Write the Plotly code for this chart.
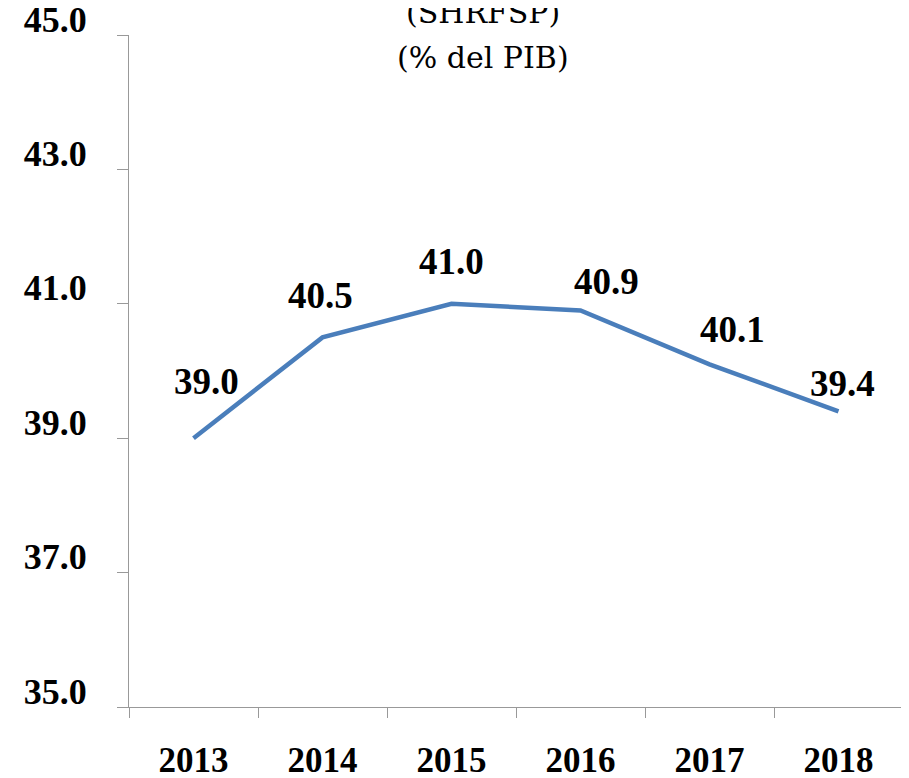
import plotly.graph_objects as go

years = ["2013", "2014", "2015", "2016", "2017", "2018"]
shrfsp = [39.0, 40.5, 41.0, 40.9, 40.1, 39.4]
y_ticks = [35.0, 37.0, 39.0, 41.0, 43.0, 45.0]

# label offsets in pixels relative to each point
label_dx = [13, -2, 0, 26, 23, 4]
label_dy = [57, 42, 42, 29, 35, 28]

serif = "Liberation Serif, Times New Roman, serif"
title_font = "DejaVu Serif"

fig = go.Figure()

fig.add_trace(go.Scatter(
    x=years,
    y=shrfsp,
    mode="lines",
    line=dict(color="#4a7ebb", width=4.5),
    hoverinfo="x+y",
    showlegend=False
))

# category axis: annotations placed by category index
for i, (v, dx, dy) in enumerate(zip(shrfsp, label_dx, label_dy)):
    fig.add_annotation(
        x=i, y=v, text=f"<b>{v:.1f}</b>",
        showarrow=False, xshift=dx, yshift=dy,
        font=dict(family=serif, size=37, color="black")
    )

# title lines (top one is cut by the page edge)
fig.add_annotation(
    x=0.457, y=1, xref="paper", yref="paper", yshift=23,
    xanchor="center", yanchor="middle",
    text="(SHRFSP)", showarrow=False,
    font=dict(family=title_font, size=30, color="black")
)
fig.add_annotation(
    x=0.457, y=1, xref="paper", yref="paper", yshift=-22,
    xanchor="center", yanchor="middle",
    text="(% del PIB)", showarrow=False,
    font=dict(family=title_font, size=30, color="black")
)

# page body adds an 8px offset, so the figure is 8px smaller
fig.update_layout(
    width=901,
    height=770,
    margin=dict(l=121, r=6, t=27, b=71),
    paper_bgcolor="white",
    plot_bgcolor="white",
    font=dict(family=serif, color="black"),
    xaxis=dict(
        type="category",
        range=[-0.5, 5.5],
        tickson="boundaries",
        ticks="outside",
        ticklen=10,
        tickcolor="#999999",
        tickwidth=1.3,
        showline=True,
        linecolor="#999999",
        linewidth=1.3,
        showgrid=False,
        automargin=False,
        ticklabelstandoff=22,
        tickfont=dict(family=serif, size=35, color="black", weight="bold"),
    ),
    yaxis=dict(
        range=[35, 45],
        tickvals=y_ticks,
        ticktext=[f"{t:.1f}" for t in y_ticks],
        ticks="outside",
        ticklen=11,
        tickcolor="#999999",
        tickwidth=1.3,
        showline=True,
        linecolor="#999999",
        linewidth=1.3,
        showgrid=False,
        zeroline=False,
        automargin=False,
        ticklabelstandoff=23,
        ticklabelshift=-16,
        ticklabeloverflow="allow",
        tickfont=dict(family=serif, size=36, color="black", weight="bold"),
    ),
)

fig.write_html("out.html")
